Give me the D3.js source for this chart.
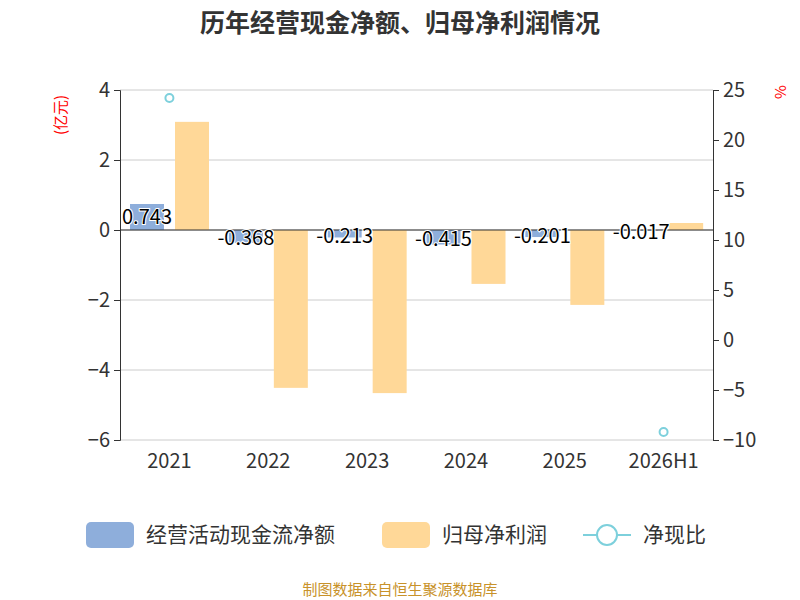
<!DOCTYPE html>
<html><head><meta charset="utf-8">
<script src="https://cdn.jsdelivr.net/npm/d3@7"></script>
<style>body{margin:0;background:#fff}text{font-family:"Noto Sans CJK SC","Noto Sans",sans-serif}</style>
</head><body><div id="c"></div>
<script>
const categories = ['2021', '2022', '2023', '2024', '2025', '2026H1']
const cashFlow = [0.743, -0.368, -0.213, -0.415, -0.201, -0.017]
const netProfit = [3.09, -4.51, -4.66, -1.54, -2.14, 0.2]
const ratio = [24.2, null, null, null, null, -9.2]
const leftTicks = [-6, -4, -2, 0, 2, 4]
const rightTicks = [-10, -5, 0, 5, 10, 15, 20, 25]

const svg = d3.select('#c').append('svg').attr('width', 800).attr('height', 600)
const plotLeft = 120, plotRight = 713, plotTop = 90, plotBottom = 440

const x = d3.scaleBand().domain(categories).range([plotLeft, plotRight])
const y = d3.scaleLinear().domain([-6, 4]).range([plotBottom, plotTop])
const y2 = d3.scaleLinear().domain([-10, 25]).range([plotBottom, plotTop])

svg.append('text').attr('x', 400).attr('y', 32).attr('text-anchor', 'middle')
  .attr('font-size', 25).attr('font-weight', 'bold').attr('fill', '#333').text('历年经营现金净额、归母净利润情况')

// grid
svg.selectAll('.grid').data(leftTicks).enter().append('line')
  .attr('x1', plotLeft).attr('x2', plotRight).attr('y1', d => y(d)).attr('y2', d => y(d))
  .attr('stroke', '#ccc')

// bars
const bw = 34
svg.selectAll('.cf').data(cashFlow).enter().append('rect')
  .attr('x', (d, i) => x(categories[i]) + 10).attr('width', bw)
  .attr('y', d => y(Math.max(0, d))).attr('height', d => Math.abs(y(d) - y(0)))
  .attr('fill', '#8eaedb')
svg.selectAll('.np').data(netProfit).enter().append('rect')
  .attr('x', (d, i) => x(categories[i]) + 55).attr('width', bw)
  .attr('y', d => y(Math.max(0, d))).attr('height', d => Math.abs(y(d) - y(0)))
  .attr('fill', '#ffd898')

// zero line
svg.append('line').attr('x1', plotLeft).attr('x2', plotRight).attr('y1', y(0)).attr('y2', y(0)).attr('stroke', '#333')

// labels
svg.selectAll('.lb').data(cashFlow).enter().append('text')
  .attr('x', (d, i) => x(categories[i]) + 10 + bw / 2)
  .attr('y', d => (y(d) + y(0)) / 2 + (d < 0 ? 2 : 0))
  .attr('dy', '0.35em').attr('text-anchor', 'middle').attr('font-size', 20)
  .attr('fill', '#000').attr('stroke', '#fff').attr('stroke-width', 2).attr('paint-order', 'stroke')
  .text(d => d)

// scatter
ratio.forEach((d, i) => {
  if (d === null) return
  svg.append('circle').attr('cx', x(categories[i]) + x.bandwidth() / 2).attr('cy', y2(d))
    .attr('r', 4).attr('fill', '#fff').attr('stroke', '#7dd0dc').attr('stroke-width', 2)
})

// axes
const ax = svg.append('g').attr('transform', `translate(${plotLeft},0)`)
  .call(d3.axisLeft(y).tickValues(leftTicks).tickSize(6))
const ax2 = svg.append('g').attr('transform', `translate(${plotRight},0)`)
  .call(d3.axisRight(y2).tickValues(rightTicks).tickSize(6))
const axb = svg.append('g').attr('transform', `translate(0,${plotBottom})`)
  .call(d3.axisBottom(x).tickSize(0))
axb.select('.domain').remove()
;[ax, ax2, axb].forEach(g => {
  g.selectAll('text').attr('font-size', 20).attr('fill', '#333')
  g.selectAll('line').attr('stroke', '#333')
  g.select('.domain').attr('stroke', '#333')
})
ax.selectAll('text').attr('x', -10)
ax2.selectAll('text').attr('x', 10)
axb.selectAll('text').attr('y', 14)

svg.append('text').attr('transform', 'translate(66,115) rotate(-90)').attr('text-anchor', 'middle')
  .attr('font-size', 15).attr('fill', 'red').text('(亿元)')
svg.append('text').attr('transform', 'translate(786,92) rotate(-90)').attr('text-anchor', 'middle')
  .attr('font-size', 15).attr('fill', 'red').text('%')

// legend
const lg = svg.append('g')
lg.append('rect').attr('x', 86).attr('y', 522).attr('width', 48).attr('height', 26).attr('rx', 5).attr('fill', '#8eaedb')
lg.append('text').attr('x', 146).attr('y', 542).attr('font-size', 21).attr('fill', '#333').text('经营活动现金流净额')
lg.append('rect').attr('x', 382).attr('y', 522).attr('width', 48).attr('height', 26).attr('rx', 5).attr('fill', '#ffd898')
lg.append('text').attr('x', 442).attr('y', 542).attr('font-size', 21).attr('fill', '#333').text('归母净利润')
lg.append('line').attr('x1', 583).attr('x2', 631).attr('y1', 535).attr('y2', 535).attr('stroke', '#7dd0dc').attr('stroke-width', 2)
lg.append('circle').attr('cx', 607).attr('cy', 535).attr('r', 10).attr('fill', '#fff').attr('stroke', '#7dd0dc').attr('stroke-width', 2)
lg.append('text').attr('x', 643).attr('y', 542).attr('font-size', 21).attr('fill', '#333').text('净现比')

svg.append('text').attr('x', 400).attr('y', 595).attr('text-anchor', 'middle')
  .attr('font-size', 15).attr('fill', '#c8922a').text('制图数据来自恒生聚源数据库')
</script></body></html>
